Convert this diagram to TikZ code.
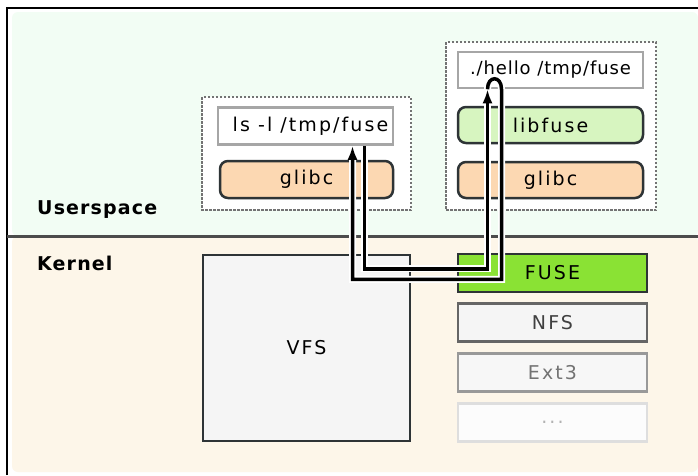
\documentclass[tikz,border=0pt]{standalone}
\usepackage{fontspec}
\setmainfont{DejaVu Sans}
\newfontfamily\boxfont[LetterSpace=11]{DejaVu Sans}
\newfontfamily\hellofont[LetterSpace=5]{DejaVu Sans}
\newfontfamily\layerfont[LetterSpace=6]{DejaVu Sans Bold}
\usetikzlibrary{calc}
\usetikzlibrary{arrows.meta}

\definecolor{userbg}{HTML}{F2FDF4}
\definecolor{kernbg}{HTML}{FDF6E9}
\definecolor{libcfill}{HTML}{FCD8B2}
\definecolor{libfusefill}{HTML}{D7F5C0}
\definecolor{fusefill}{HTML}{8AE234}
\definecolor{darkline}{HTML}{2E3436}

\begin{document}
\begin{tikzpicture}[x=1pt,y=-1pt,>={Latex[length=14pt,width=10pt]},
    txt/.style={font=\boxfont\fontsize{19}{21}\selectfont, inner sep=0pt},
    layer/.style={font=\layerfont\fontsize{19}{21}\selectfont, anchor=west, inner sep=0pt},
    cmdbox/.style={txt, draw=black!35, fill=white, line width=2.5pt,
        minimum width=175pt, minimum height=37pt},
    libbox/.style={txt, draw=darkline, line width=2.5pt, rounded corners=8pt,
        minimum width=173pt, minimum height=37pt},
    fsbox/.style={txt, line width=2.5pt, minimum width=189pt, minimum height=38pt},
    procbox/.style={draw=black!55, line width=2pt, dash pattern=on 2.5pt off 1.5pt},
    flow/.style={line width=3.5pt, preaction={draw=white, line width=7pt}}]

\useasboundingbox (0,0) rectangle (698,475);

% white background and outer frame
\fill[white] (0,0) rectangle (698,475);
\fill[userbg, rounded corners=6pt] (12,12) rectangle (698,236);
\fill[kernbg, rounded corners=6pt] (12,236) rectangle (698,472);
\draw[line width=2.5pt] (7,475) -- (7,8) -- (698,8);

% user / kernel boundary
\draw[line width=3pt, black!70] (7,236) -- (698,236);
\node[layer] (user) at (37,210) {Userspace};
\node[layer] (kern) at (37,263) {Kernel};

% processes
\fill[white] (202,97) rectangle (411,210);
\draw[procbox] (202,97) rectangle (411,210);
\fill[white] (446,42) rectangle (656,210);
\draw[procbox] (446,42) rectangle (656,210);

\node[cmdbox] (ls) at (305.5,126) {\hspace{10pt}ls -l /tmp/fuse};
\node[libbox, fill=libcfill] (glibcl) at (306.5,179.5) {glibc};

\node[cmdbox, minimum width=185pt, minimum height=36pt,
    font=\hellofont\fontsize{18}{20}\selectfont] (hello) at (550.5,70) {./hello /tmp/fuse};
\node[libbox, fill=libfusefill, minimum width=185pt, minimum height=36pt] (libfuse) at (550.5,125) {libfuse};
\node[libbox, fill=libcfill, minimum width=185pt, minimum height=36pt] (glibcr) at (550.5,180) {glibc};

% kernel side
\node[txt, draw=darkline, fill=black!4, line width=2.5pt,
    minimum width=207pt, minimum height=186pt] (vfs) at (306.5,348) {VFS};

\node[fsbox, draw=darkline, fill=fusefill] (fuse) at (552.5,273) {FUSE};
\node[fsbox, draw=black!60, fill=black!4, text=black!75] (nfs) at (552.5,322.5) {NFS};
\node[fsbox, draw=black!40, fill=black!3, text=black!55] (ext) at (552.5,372.5) {Ext3};
\node[fsbox, draw=black!13, fill=kernbg!60!black!3, text=black!30] (more) at (552.5,422.5) {...};

% call path through the kernel and back
\draw[flow,->] ([xshift=-63pt]hello.south)
    .. controls +(0,-14) and +(0,-14) .. ([xshift=-49pt]hello.south)
    -- ++(0,190) -| ([xshift=47pt]ls.south);
\draw[flow,->] ([xshift=59pt]ls.south) -- ++(0,123) -| ([xshift=-63pt]hello.south);

\end{tikzpicture}
\end{document}
